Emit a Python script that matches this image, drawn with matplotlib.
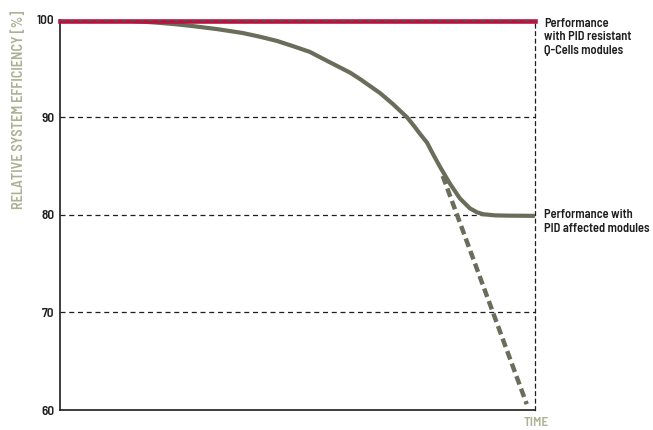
"""PID resistance chart: relative system efficiency over time."""
import matplotlib
matplotlib.use("Agg")
import matplotlib.pyplot as plt

plt.rcParams["font.family"] = ["Barlow Semi Condensed", "DejaVu Sans"]

# affected modules
time_affected = [0.0, 0.069, 0.141, 0.211, 0.248, 0.280, 0.331, 0.385, 0.421, 0.457,
                 0.491, 0.526, 0.562, 0.611, 0.632, 0.674, 0.701, 0.731, 0.747, 0.758,
                 0.773, 0.785, 0.800, 0.821, 0.842, 0.863, 0.878, 0.891, 0.916, 0.947,
                 1.0]
eff_affected = [100.0, 99.98, 99.90, 99.66, 99.50, 99.33, 99.02, 98.62, 98.24, 97.81,
                97.27, 96.69, 95.78, 94.56, 93.90, 92.47, 91.35, 89.98, 89.01, 88.30,
                87.39, 86.27, 84.94, 83.21, 81.69, 80.67, 80.26, 80.06, 79.94, 79.91,
                79.89]

# unmitigated extrapolation (dashed)
time_trend = [0.806, 0.983]
eff_trend = [83.98, 60.6]

# PID resistant modules
time_resistant = [0.0, 1.0]
eff_resistant = [99.85, 99.85]

yticks = [60, 70, 80, 90, 100]
label_resistant = "Performance\nwith PID resistant\nQ-Cells modules"
label_affected = "Performance with\nPID affected modules"

GREY = "#6b6d5b"
RED = "#b8123f"
PALE = "#adb092"
INK = "#1e1e1e"

fig = plt.figure(figsize=(6.53, 4.30), dpi=100)
ax = fig.add_axes([0.092, 0.0465, 0.727, 0.908])

for y in [70, 80, 90]:
    ax.axhline(y, color=INK, lw=0.9, ls=(0, (4, 3)), zorder=1)
ax.axhline(100, color="#555555", lw=0.9, ls=(0, (4, 3)), zorder=5, clip_on=False)

ax.plot(time_affected, eff_affected, color=GREY, lw=3.0, solid_capstyle="butt",
        solid_joinstyle="round", zorder=3)
ax.plot(time_trend, eff_trend, color=GREY, lw=3.2, ls=(0, (2.0, 1.0)), zorder=3)
ax.plot(time_resistant, eff_resistant, color=RED, lw=3.3, zorder=4, clip_on=False)

ax.set_xlim(0, 1)
ax.set_ylim(60, 100)
ax.set_yticks(yticks)
ax.set_yticklabels([str(t) for t in yticks], fontsize=9.5, fontweight=600, color=INK)
ax.set_xticks([])
ax.tick_params(axis="y", length=0, pad=4)

for side in ["left", "bottom"]:
    ax.spines[side].set_color(INK)
    ax.spines[side].set_linewidth(1.2)
ax.spines["top"].set_visible(False)
ax.spines["right"].set_color(INK)
ax.spines["right"].set_linewidth(0.9)
ax.spines["right"].set_linestyle((0, (3, 3)))

ax.set_ylabel("RELATIVE SYSTEM EFFICIENCY [%]", fontsize=10.3, fontweight=600, color=PALE)
ax.yaxis.set_label_coords(-0.088, 1.022)
ax.yaxis.label.set_verticalalignment("center")
ax.yaxis.label.set_horizontalalignment("right")

fig.text(0.821, 0.016, "TIME", fontsize=9.5, fontweight=600, color=PALE, ha="center", va="center")

ax.text(1.019, 100.15, label_resistant, fontsize=9, fontweight=600, color=INK,
        va="top", ha="left", linespacing=1.15, transform=ax.get_yaxis_transform())
ax.text(1.019, 79.25, label_affected, fontsize=9, fontweight=600, color=INK,
        va="center", ha="left", linespacing=1.15, transform=ax.get_yaxis_transform())

fig.savefig("out.png", dpi=100)
